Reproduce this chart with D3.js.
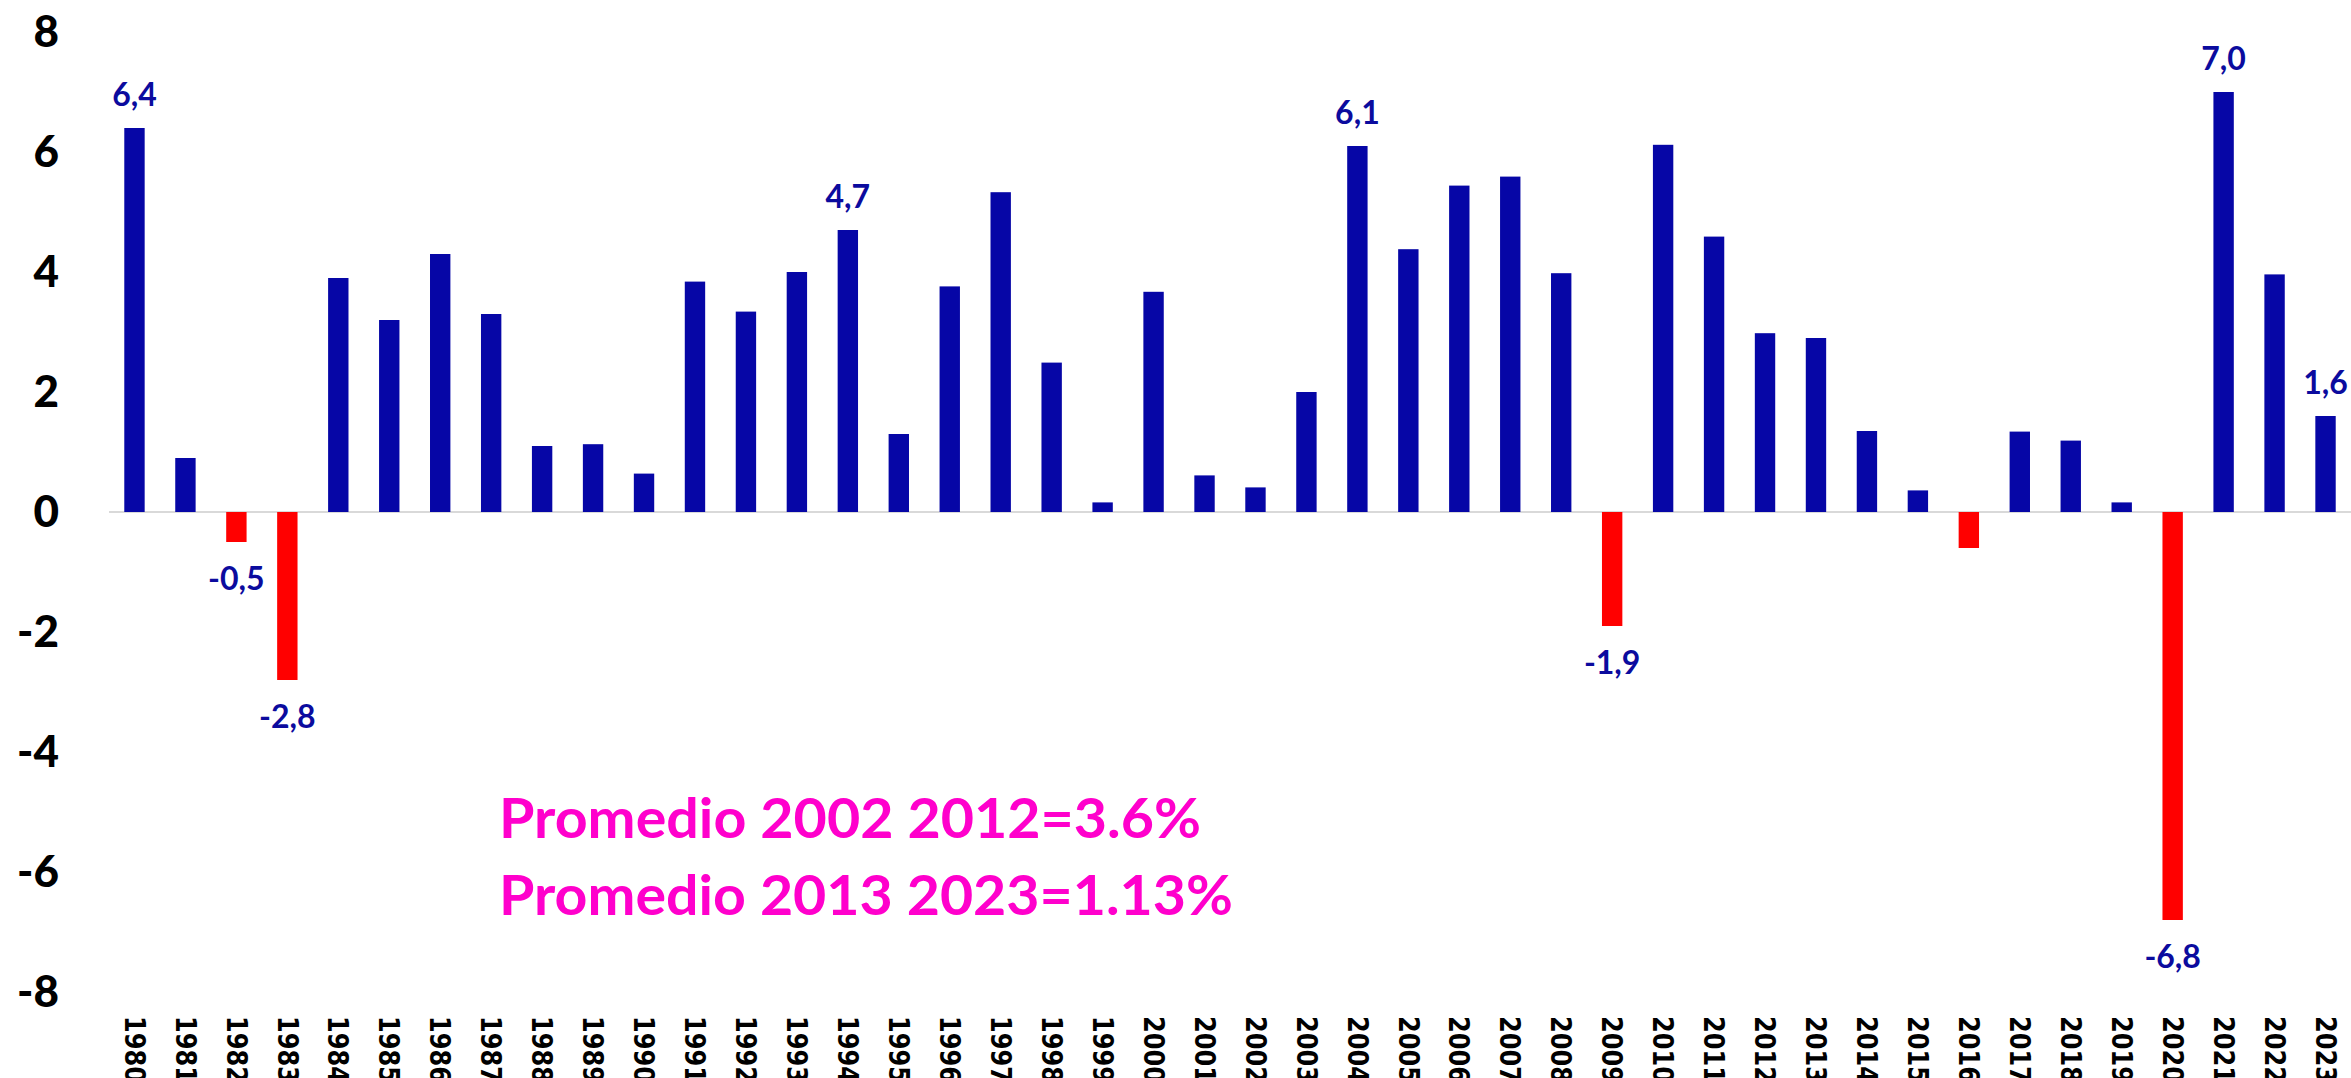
<!DOCTYPE html>
<html>
<head>
<meta charset="utf-8">
<script src="https://cdn.jsdelivr.net/npm/d3@7"></script>
<style>
  html, body { margin: 0; padding: 0; background: #fff; }
  svg { display: block; }
  .axis--y text { font-family: Lato, sans-serif; font-weight: 900; font-size: 44px; fill: #000; }
  .axis--x text { font-family: "DejaVu Sans", sans-serif; font-weight: 700; font-size: 28px; fill: #000; }
  .label { font-family: Lato, sans-serif; font-weight: 700; font-size: 32px; fill: #0b0b9e; }
  .note { font-family: Lato, sans-serif; font-weight: 700; font-size: 55px; fill: #ff00cc; }
</style>
</head>
<body>
<svg width="2351" height="1078"></svg>
<script>
// growth by year, %
const years = d3.range(1980, 2024).map(String);
const growth = [
  6.4, 0.9, -0.5, -2.8, 3.9, 3.2, 4.3, 3.3, 1.1, 1.13,
  0.64, 3.84, 3.34, 4.0, 4.7, 1.3, 3.76, 5.33, 2.49, 0.16,
  3.67, 0.61, 0.41, 2.0, 6.1, 4.38, 5.44, 5.59, 3.98, -1.9,
  6.12, 4.59, 2.98, 2.9, 1.35, 0.36, -0.6, 1.34, 1.19, 0.16,
  -6.8, 7.0, 3.96, 1.6
];
const labelledYears = ['1980', '1982', '1983', '1994', '2004', '2009', '2020', '2021', '2023'];
const yTicks = [-8, -6, -4, -2, 0, 2, 4, 6, 8];
const notes = ['Promedio 2002 2012=3.6%', 'Promedio 2013 2023=1.13%'];
const noteWidths = [702, 734];

const data = years.map((year, i) => ({year, value: growth[i]}));

const svg = d3.select('svg');
const locale = d3.formatLocale({decimal: ',', thousands: '.', grouping: [3], currency: ['', ''], minus: '-'});
const fmt = locale.format('.1f');

const x = d3.scaleBand()
  .domain(years)
  .range([109, 2351])
  .paddingInner(0.6)
  .paddingOuter(0.3);

const y = d3.scaleLinear()
  .domain([-8, 8])
  .range([992, 32]);

// y axis labels only
svg.append('g')
  .attr('class', 'axis axis--y')
  .attr('transform', 'translate(59, 0)')
  .call(d3.axisLeft(y).tickValues(yTicks).tickSize(0).tickPadding(0).tickFormat(locale.format('d')))
  .call(g => g.select('.domain').remove());

// zero line
svg.append('line')
  .attr('x1', x.range()[0])
  .attr('x2', x.range()[1])
  .attr('y1', y(0))
  .attr('y2', y(0))
  .attr('stroke', '#d9d9d9')
  .attr('stroke-width', 2);

svg.selectAll('.bar')
  .data(data)
  .enter().append('rect')
    .attr('class', 'bar')
    .attr('x', d => x(d.year))
    .attr('width', x.bandwidth())
    .attr('y', d => y(Math.max(0, d.value)))
    .attr('height', d => Math.abs(y(d.value) - y(0)))
    .attr('fill', d => d.value < 0 ? '#ff0000' : '#0606a6');

svg.selectAll('.label')
  .data(data.filter(d => labelledYears.includes(d.year)))
  .enter().append('text')
    .attr('class', 'label')
    .attr('text-anchor', 'middle')
    .attr('x', d => x(d.year) + x.bandwidth() / 2)
    .attr('y', d => d.value < 0 ? y(d.value) + 48 : y(d.value) - 22)
    .text(d => fmt(d.value));

// year labels along the bottom, rotated (cut by the bottom edge as in the original)
svg.append('g')
  .attr('class', 'axis axis--x')
  .attr('transform', 'translate(0, 1016)')
  .call(d3.axisBottom(x).tickSize(0).tickPadding(0))
  .call(g => g.select('.domain').remove())
  .selectAll('text')
    .attr('transform', 'rotate(90)')
    .attr('x', 0)
    .attr('y', 0)
    .attr('dy', '0.35em')
    .attr('text-anchor', 'start')
    .attr('textLength', 67)
    .attr('lengthAdjust', 'spacingAndGlyphs');

svg.selectAll('.note')
  .data(notes)
  .enter().append('text')
    .attr('class', 'note')
    .attr('x', 499)
    .attr('y', (d, i) => 838 + i * 77)
    .attr('textLength', (d, i) => noteWidths[i])
    .attr('lengthAdjust', 'spacingAndGlyphs')
    .text(d => d);
</script>
</body>
</html>
